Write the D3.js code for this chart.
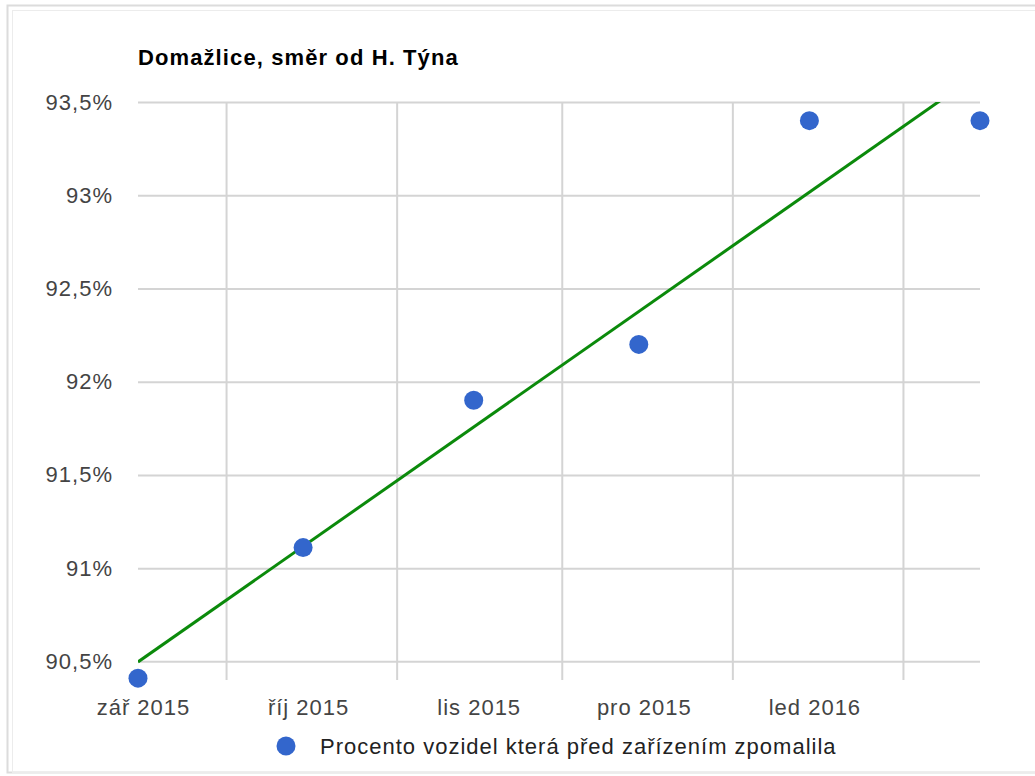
<!DOCTYPE html>
<html lang="cs">
<head>
  <meta charset="UTF-8">
  <title>Domažlice, směr od H. Týna</title>
  <style>
    body { margin: 0; background: #fff; }
    text { font-family: Arial, "Liberation Sans", sans-serif; letter-spacing: 1px; }
    .grid line { stroke: #d4d4d4; stroke-width: 2; }
    .grid path { display: none; }
    .axis path, .axis line { display: none; }
    .axis text { fill: #444; font-size: 22px; }
  </style>
</head>
<body>
  <svg width="1035" height="776"></svg>
  <script src="https://cdn.jsdelivr.net/npm/d3@7"></script>
  <script>
    // data
    var dates = ["2015-09-01", "2015-10-01", "2015-11-01", "2015-12-01", "2016-01-01", "2016-02-01"];
    var values = [90.41, 91.11, 91.9, 92.2, 93.4, 93.4];

    var monthTicks = ["2015-09-01", "2015-10-01", "2015-11-01", "2015-12-01", "2016-01-01"];
    var monthLabels = ["zář 2015", "říj 2015", "lis 2015", "pro 2015", "led 2016"];
    var gridDates = ["2015-09-17", "2015-10-18", "2015-11-17", "2015-12-18", "2016-01-18"];

    var yTicks = [90.5, 91, 91.5, 92, 92.5, 93, 93.5];
    var yTickLabels = ["90,5%", "91%", "91,5%", "92%", "92,5%", "93%", "93,5%"];

    var title = "Domažlice, směr od H. Týna";
    var seriesName = "Procento vozidel která před zařízením zpomalila";

    var svg = d3.select("svg"),
      margin = {top: 102, right: 55, bottom: 96, left: 138},
      width = +svg.attr("width") - margin.left - margin.right,
      height = +svg.attr("height") - margin.top - margin.bottom;

    var parse = d3.utcParse("%Y-%m-%d");
    var data = dates.map(function(d, i) { return {date: parse(d), value: values[i]}; });

    // outer frame
    svg.append("rect")
      .attr("x", 7.5).attr("y", 5.5).attr("width", 1040).attr("height", 767)
      .attr("fill", "none").attr("stroke", "#dcdcdc").attr("stroke-width", 2);
    svg.append("rect")
      .attr("x", 12.5).attr("y", 10.5).attr("width", 1030).attr("height", 762)
      .attr("fill", "none").attr("stroke", "#ececec").attr("stroke-width", 1);

    var g = svg.append("g")
      .attr("transform", "translate(" + margin.left + "," + margin.top + ")");

    var x = d3.scaleUtc()
      .domain([parse(dates[0]), parse(dates[dates.length - 1])])
      .range([0, width]);
    var y = d3.scaleLinear().domain([90.4, 93.5]).range([height, 0]);

    // title
    svg.append("text")
      .attr("x", margin.left)
      .attr("y", 65)
      .attr("font-size", 22)
      .attr("font-weight", "bold")
      .attr("fill", "#000")
      .style("letter-spacing", "1.1px")
      .text(title);

    // horizontal grid + y labels
    g.append("g")
      .attr("class", "grid axis-y")
      .call(d3.axisLeft(y)
        .tickValues(yTicks)
        .tickSize(-width)
        .tickPadding(25)
        .tickFormat(function(d, i) { return yTickLabels[i]; }))
      .selectAll("text")
      .attr("fill", "#444")
      .attr("font-size", 22);

    // vertical grid
    g.append("g")
      .attr("class", "grid")
      .call(d3.axisTop(x)
        .tickValues(gridDates.map(parse))
        .tickSize(-height)
        .tickFormat(""));

    // x labels
    g.append("g")
      .attr("class", "axis axis--x")
      .attr("transform", "translate(5," + height + ")")
      .call(d3.axisBottom(x)
        .tickValues(monthTicks.map(parse))
        .tickSize(0)
        .tickPadding(19)
        .tickFormat(function(d, i) { return monthLabels[i]; }));

    // trendline (least squares over the points)
    var xs = data.map(function(d) { return +d.date; });
    var mx = d3.mean(xs), my = d3.mean(values);
    var sxy = d3.sum(data, function(d) { return (+d.date - mx) * (d.value - my); });
    var sxx = d3.sum(xs, function(v) { return (v - mx) * (v - mx); });
    var slope = sxy / sxx, icpt = my - slope * mx;
    var trend = [xs[0], xs[xs.length - 1]].map(function(t) { return {date: new Date(t), value: icpt + slope * t}; });

    g.append("clipPath").attr("id", "clip")
      .append("rect").attr("width", width).attr("height", height);

    g.append("path")
      .datum(trend)
      .attr("clip-path", "url(#clip)")
      .attr("fill", "none")
      .attr("stroke", "#0b8a0b")
      .attr("stroke-width", 3)
      .attr("d", d3.line()
        .x(function(d) { return x(d.date); })
        .y(function(d) { return y(d.value); }));

    // points
    g.selectAll(".dot")
      .data(data)
      .enter()
      .append("circle")
      .attr("class", "dot")
      .attr("cx", function(d) { return x(d.date); })
      .attr("cy", function(d) { return y(d.value); })
      .attr("r", 9.5)
      .attr("fill", "#3366cc");

    // legend
    var legend = svg.append("g").attr("transform", "translate(286,746)");
    legend.append("circle").attr("r", 9.5).attr("fill", "#3366cc");
    legend.append("text")
      .attr("x", 34)
      .attr("y", 8)
      .attr("font-size", 22)
      .attr("fill", "#222")
      .text(seriesName);
  </script>
</body>
</html>
